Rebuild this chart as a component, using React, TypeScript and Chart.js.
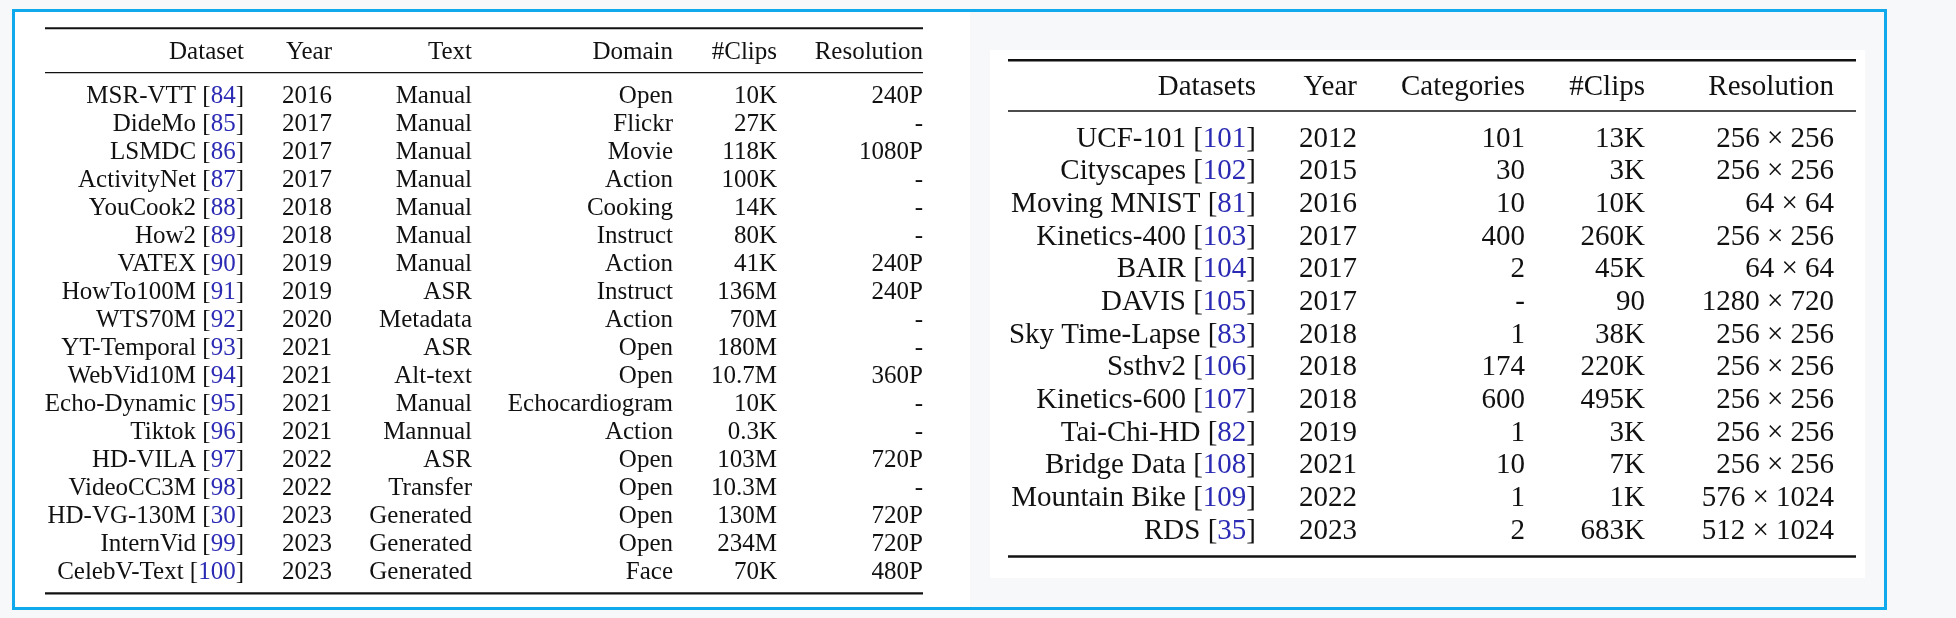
import React, { useEffect, useRef } from 'react';
import { Chart, registerables } from 'chart.js';

Chart.register(...registerables);

// ---------- Left table data ----------
const leftHeaders = ['Dataset', 'Year', 'Text', 'Domain', '#Clips', 'Resolution'];
const leftNames = ['MSR-VTT', 'DideMo', 'LSMDC', 'ActivityNet', 'YouCook2', 'How2', 'VATEX', 'HowTo100M', 'WTS70M', 'YT-Temporal', 'WebVid10M', 'Echo-Dynamic', 'Tiktok', 'HD-VILA', 'VideoCC3M', 'HD-VG-130M', 'InternVid', 'CelebV-Text'];
const leftRefs = ['84', '85', '86', '87', '88', '89', '90', '91', '92', '93', '94', '95', '96', '97', '98', '30', '99', '100'];
const leftYears = ['2016', '2017', '2017', '2017', '2018', '2018', '2019', '2019', '2020', '2021', '2021', '2021', '2021', '2022', '2022', '2023', '2023', '2023'];
const leftText = ['Manual', 'Manual', 'Manual', 'Manual', 'Manual', 'Manual', 'Manual', 'ASR', 'Metadata', 'ASR', 'Alt-text', 'Manual', 'Mannual', 'ASR', 'Transfer', 'Generated', 'Generated', 'Generated'];
const leftDomain = ['Open', 'Flickr', 'Movie', 'Action', 'Cooking', 'Instruct', 'Action', 'Instruct', 'Action', 'Open', 'Open', 'Echocardiogram', 'Action', 'Open', 'Open', 'Open', 'Open', 'Face'];
const leftClips = ['10K', '27K', '118K', '100K', '14K', '80K', '41K', '136M', '70M', '180M', '10.7M', '10K', '0.3K', '103M', '10.3M', '130M', '234M', '70K'];
const leftRes = ['240P', '-', '1080P', '-', '-', '-', '240P', '240P', '-', '-', '360P', '-', '-', '720P', '-', '720P', '720P', '480P'];

// ---------- Right table data ----------
const rightHeaders = ['Datasets', 'Year', 'Categories', '#Clips', 'Resolution'];
const rightNames = ['UCF-101', 'Cityscapes', 'Moving MNIST', 'Kinetics-400', 'BAIR', 'DAVIS', 'Sky Time-Lapse', 'Ssthv2', 'Kinetics-600', 'Tai-Chi-HD', 'Bridge Data', 'Mountain Bike', 'RDS'];
const rightRefs = ['101', '102', '81', '103', '104', '105', '83', '106', '107', '82', '108', '109', '35'];
const rightYears = ['2012', '2015', '2016', '2017', '2017', '2017', '2018', '2018', '2018', '2019', '2021', '2022', '2023'];
const rightCategories = ['101', '30', '10', '400', '2', '-', '1', '174', '600', '1', '10', '1', '2'];
const rightClips = ['13K', '3K', '10K', '260K', '45K', '90', '38K', '220K', '495K', '3K', '7K', '1K', '683K'];
const rightRes = ['256 × 256', '256 × 256', '64 × 64', '256 × 256', '64 × 64', '1280 × 720', '256 × 256', '256 × 256', '256 × 256', '256 × 256', '256 × 256', '576 × 1024', '512 × 1024'];

const INK = '#111111';
const REF_BLUE = '#2a2ab4';
const FONT = '"Liberation Serif", "Times New Roman", serif';

type TableCfg = {
  width: number;
  height: number;
  names: string[];
  refs: string[];
  headers: string[];
  cols: string[][];
  colRight: number[];
  fontSize: number;
  areaTop: number;
  areaBottom: number;
  headerBaseline: number;
  rules: { y: number; w: number }[];
  ruleX: [number, number];
  background: (ctx: CanvasRenderingContext2D, w: number, h: number) => void;
};

function tablePlugin(cfg: TableCfg) {
  return {
    id: 'tableDraw',
    beforeDraw(chart: any) {
      const ctx = chart.ctx as CanvasRenderingContext2D;
      ctx.save();
      cfg.background(ctx, chart.width, chart.height);
      ctx.restore();
    },
    afterDraw(chart: any) {
      const ctx = chart.ctx as CanvasRenderingContext2D;
      const xs = chart.scales.x;
      const ys = chart.scales.y;
      ctx.save();
      ctx.font = `${cfg.fontSize}px ${FONT}`;
      ctx.textAlign = 'right';
      ctx.textBaseline = 'alphabetic';
      const capHalf = cfg.fontSize * 0.331;

      ctx.strokeStyle = INK;
      for (const r of cfg.rules) {
        ctx.lineWidth = r.w;
        ctx.beginPath();
        ctx.moveTo(xs.getPixelForValue(cfg.ruleX[0]), r.y);
        ctx.lineTo(xs.getPixelForValue(cfg.ruleX[1]), r.y);
        ctx.stroke();
      }

      ctx.fillStyle = INK;
      cfg.headers.forEach((h, c) => {
        ctx.fillText(h, xs.getPixelForValue(cfg.colRight[c]), cfg.headerBaseline);
      });

      cfg.names.forEach((name, i) => {
        const y = ys.getPixelForValue(i) + capHalf;
        let x = xs.getPixelForValue(cfg.colRight[0]);
        ctx.fillStyle = INK;
        ctx.fillText(']', x, y);
        x -= ctx.measureText(']').width;
        ctx.fillStyle = REF_BLUE;
        ctx.fillText(cfg.refs[i], x, y);
        x -= ctx.measureText(cfg.refs[i]).width;
        ctx.fillStyle = INK;
        ctx.fillText(name + ' [', x, y);
        cfg.cols.forEach((col, c) => {
          ctx.fillText(col[i], xs.getPixelForValue(cfg.colRight[c + 1]), y);
        });
      });
      ctx.restore();
    },
  };
}

function makeChart(canvas: HTMLCanvasElement, cfg: TableCfg) {
  return new Chart(canvas, {
    type: 'scatter',
    data: { datasets: [] },
    options: {
      responsive: false,
      animation: false,
      devicePixelRatio: 1,
      events: [],
      layout: { padding: { left: 0, right: 0, top: cfg.areaTop, bottom: cfg.height - cfg.areaBottom } },
      plugins: { legend: { display: false }, tooltip: { enabled: false }, title: { display: false } },
      scales: {
        x: { type: 'linear', min: 0, max: cfg.width, display: false },
        y: { type: 'category', labels: cfg.names, offset: true, display: false },
      },
    } as any,
    plugins: [tablePlugin(cfg) as any],
  });
}

const PAGE_W = 1956;
const PAGE_H = 618;
const RIGHT_X = 990;
const RIGHT_Y = 50;
const RIGHT_W = 875;
const RIGHT_H = 528;

export default function App() {
  const leftRef = useRef<HTMLCanvasElement | null>(null);
  const rightRef = useRef<HTMLCanvasElement | null>(null);

  useEffect(() => {
    document.body.style.margin = '0';
    const leftCfg: TableCfg = {
      width: PAGE_W,
      height: PAGE_H,
      names: leftNames,
      refs: leftRefs,
      headers: leftHeaders,
      cols: [leftYears, leftText, leftDomain, leftClips, leftRes],
      colRight: [244, 332, 472, 673, 777, 923],
      fontSize: 25,
      areaTop: 80.5,
      areaBottom: 585,
      headerBaseline: 58.5,
      rules: [
        { y: 28.3, w: 2 },
        { y: 72.6, w: 1.4 },
        { y: 593.4, w: 2.2 },
      ],
      ruleX: [45, 923],
      background: (ctx, w, h) => {
        ctx.fillStyle = '#f6f8f9';
        ctx.fillRect(0, 0, w, h);
        ctx.fillStyle = '#ffffff';
        ctx.fillRect(15, 12, 955, 595);
        ctx.strokeStyle = '#10aaec';
        ctx.lineWidth = 3;
        ctx.strokeRect(13.5, 10.5, 1872, 598);
      },
    };
    const rightCfg: TableCfg = {
      width: RIGHT_W,
      height: RIGHT_H,
      names: rightNames,
      refs: rightRefs,
      headers: rightHeaders,
      cols: [rightYears, rightCategories, rightClips, rightRes],
      colRight: [266, 367, 535, 655, 844],
      fontSize: 29,
      areaTop: 120.7 - RIGHT_Y,
      areaBottom: 545.3 - RIGHT_Y,
      headerBaseline: 95 - RIGHT_Y,
      rules: [
        { y: 60.3 - RIGHT_Y, w: 2.5 },
        { y: 111 - RIGHT_Y, w: 1.5 },
        { y: 556.6 - RIGHT_Y, w: 2.5 },
      ],
      ruleX: [18, 866],
      background: (ctx, w, h) => {
        ctx.fillStyle = '#ffffff';
        ctx.fillRect(0, 0, w, h);
      },
    };
    const a = makeChart(leftRef.current!, leftCfg);
    const b = makeChart(rightRef.current!, rightCfg);
    return () => {
      a.destroy();
      b.destroy();
    };
  }, []);

  return (
    <div style={{ position: 'relative', width: PAGE_W, height: PAGE_H, overflow: 'hidden' }}>
      <canvas
        ref={leftRef}
        width={PAGE_W}
        height={PAGE_H}
        style={{ position: 'absolute', left: 0, top: 0, width: PAGE_W, height: PAGE_H }}
      />
      <canvas
        ref={rightRef}
        width={RIGHT_W}
        height={RIGHT_H}
        style={{ position: 'absolute', left: RIGHT_X, top: RIGHT_Y, width: RIGHT_W, height: RIGHT_H }}
      />
    </div>
  );
}
